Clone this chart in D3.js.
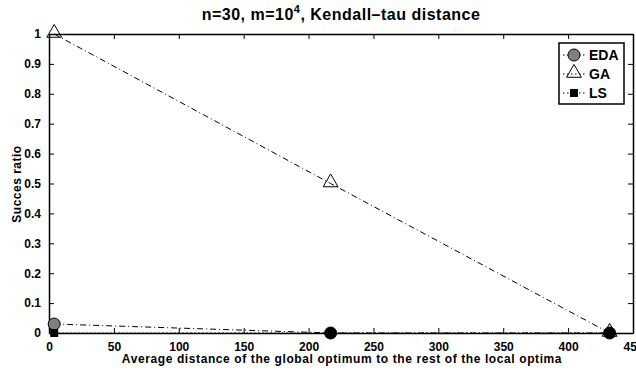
<!DOCTYPE html>
<html lang="en">
<head>
<meta charset="UTF-8">
<title>Succes ratio</title>
<script src="https://d3js.org/d3.v7.min.js"></script>
<style>
    body { margin: 0; background: #fff; }
    text { font-family: "Liberation Sans", Arial, sans-serif; font-weight: bold; fill: #000; }
    .tick text { font-size: 12px; }
</style>
</head>
<body>
<svg id="chart" width="636" height="370"></svg>
<script>
    // data
    const distances = [4, 217, 432];
    const edaValues = [0.03, 0, 0];
    const gaValues = [1, 0.5, 0];
    const lsValues = [0, 0, 0];
    const xTicks = [0, 50, 100, 150, 200, 250, 300, 350, 400, 450];
    const yTicks = [0, 0.1, 0.2, 0.3, 0.4, 0.5, 0.6, 0.7, 0.8, 0.9, 1];

    const margin = { top: 34, right: 3, bottom: 37, left: 49 };
    const W = 636, H = 370;
    const width = W - margin.left - margin.right;
    const height = H - margin.top - margin.bottom;

    const svg = d3.select("#chart");
    const g = svg.append("g").attr("transform", `translate(${margin.left},${margin.top})`);

    const x = d3.scaleLinear().domain([0, 450]).range([0, width]);
    const y = d3.scaleLinear().domain([0, 1]).range([height, 0]);

    // axes, ticks inward, box on
    const fmtY = d => d === 0 || d === 1 ? d3.format("d")(d) : d3.format(".1f")(d);
    g.append("g").attr("transform", `translate(0,${height})`)
        .call(d3.axisBottom(x).tickValues(xTicks).tickSizeInner(-5).tickSizeOuter(0).tickPadding(9));
    g.append("g")
        .call(d3.axisLeft(y).tickValues(yTicks).tickFormat(fmtY).tickSizeInner(-5).tickSizeOuter(0).tickPadding(8));
    g.append("g")
        .call(d3.axisTop(x).tickValues(xTicks).tickSizeInner(-5).tickSizeOuter(0).tickFormat(""));
    g.append("g").attr("transform", `translate(${width},0)`)
        .call(d3.axisRight(y).tickValues(yTicks).tickSizeInner(-5).tickSizeOuter(0).tickFormat(""));
    g.selectAll(".domain").attr("stroke", "#000").attr("stroke-width", 1.5);
    g.selectAll(".tick line").attr("stroke", "#000").attr("stroke-width", 1);

    const series = [
        { name: "EDA", values: edaValues, marker: "circle", dash: "6,3,1,3" },
        { name: "GA", values: gaValues, marker: "triangle", dash: "6,3,1,3" },
        { name: "LS", values: lsValues, marker: "square", dash: "1.5,2.5" }
    ];

    const line = d3.line().x(d => x(d[0])).y(d => y(d[1]));

    function drawMarker(sel, type, px, py, v) {
        if (type === "circle") {
            sel.append("circle").attr("cx", px).attr("cy", py).attr("r", 6)
                .attr("fill", v === 0 ? "#000" : "#808080").attr("stroke", "#000").attr("stroke-width", 1);
        } else if (type === "triangle") {
            sel.append("path")
                .attr("d", d3.symbol().type(d3.symbolTriangle).size(95)())
                .attr("transform", `translate(${px},${py - 1})`)
                .attr("fill", "none").attr("stroke", "#000").attr("stroke-width", 1);
        } else {
            sel.append("rect").attr("x", px - 4).attr("y", py - 4).attr("width", 8).attr("height", 8)
                .attr("fill", "#000");
        }
    }

    series.forEach(s => {
        const pts = distances.map((d, i) => [d, s.values[i]]);
        g.append("path").datum(pts)
            .attr("d", line).attr("fill", "none").attr("stroke", "#000")
            .attr("stroke-width", 1).attr("stroke-dasharray", s.dash);
        const mg = g.append("g");
        pts.forEach(p => drawMarker(mg, s.marker, x(p[0]), y(p[1]), p[1]));
    });

    // legend
    const lg = svg.append("g").attr("transform", "translate(559,43)");
    lg.append("rect").attr("width", 65).attr("height", 61)
        .attr("fill", "#fff").attr("stroke", "#000").attr("stroke-width", 1.5);
    series.forEach((s, i) => {
        const cy = 12 + i * 19;
        lg.append("line").attr("x1", 4).attr("x2", 26).attr("y1", cy).attr("y2", cy)
            .attr("stroke", "#000").attr("stroke-dasharray", "1.5,2.5");
        drawMarker(lg, s.marker, 15, cy, s.marker === "circle" ? 1 : 0);
        lg.append("text").attr("x", 30).attr("y", cy + 5).attr("font-size", 14).text(s.name);
    });

    // title
    const title = svg.append("text").attr("x", 341).attr("y", 20)
        .attr("text-anchor", "middle").attr("font-size", 16).attr("letter-spacing", 0.5);
    title.append("tspan").text("n=30, m=10");
    title.append("tspan").attr("dy", -7).attr("font-size", 11).text("4");
    title.append("tspan").attr("dy", 7).text(", Kendall\u2013tau distance");

    // axis labels
    svg.append("text").attr("x", 342).attr("y", 363)
        .attr("text-anchor", "middle").attr("font-size", 12).attr("letter-spacing", 0.6)
        .text("Average distance of the global optimum to the rest of the local optima");
    svg.append("text").attr("transform", "translate(21,184) rotate(-90)")
        .attr("text-anchor", "middle").attr("font-size", 12).attr("letter-spacing", 0.5).text("Succes ratio");
</script>
</body>
</html>
